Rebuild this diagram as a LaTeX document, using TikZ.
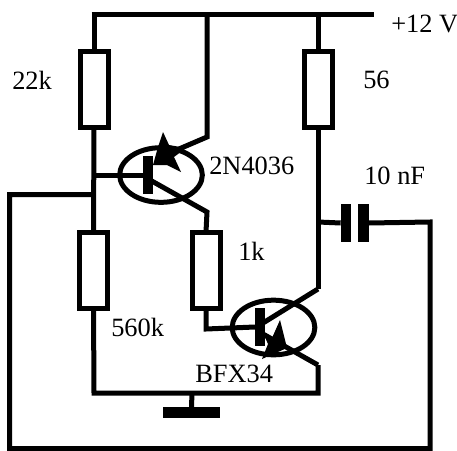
\documentclass[tikz,border=0pt]{standalone}
\usepackage{fontspec}
\usetikzlibrary{shapes.geometric}
\setmainfont{Liberation Serif}
\tikzset{
  wire/.style={line width=3.75pt,line join=miter,line cap=butt},
  resbox/.style={draw,line width=3.75pt,fill=white,minimum width=21pt,minimum height=57pt,inner sep=0pt,outer sep=0pt},
  capplate/.style={fill=black,minimum width=8pt,minimum height=28.5pt,inner sep=0pt,outer sep=0pt},
  basebar/.style={fill=black,minimum width=7.5pt,minimum height=28.5pt,inner sep=0pt,outer sep=0pt},
  body/.style={draw,line width=3.75pt,ellipse,minimum width=62pt,minimum height=41pt,inner sep=0pt,outer sep=0pt},
  lab/.style={font=\fontsize{19.8}{19.8}\selectfont,inner sep=0pt,anchor=base west,text=black}
}
\begin{document}
\begin{tikzpicture}[x=0.75pt,y=-0.75pt]
\useasboundingbox (0,0) rectangle (457,450);
\fill[white] (0,0) rectangle (457,450);
% nodes
\node[resbox] (r1) at (94,89.5) {};
\node[resbox] (r2) at (93.5,270) {};
\node[resbox] (r3) at (206,270) {};
\node[resbox] (r4) at (318,89.5) {};
\node[body] (t1) at (161,175) {};
\node[body] (t2) at (273.5,327.5) {};
\node[basebar] (b1) at (148,175) {};
\node[basebar] (b2) at (260,327) {};
\node[capplate] (c1) at (346,223) {};
\node[capplate] (c2) at (363.5,223) {};
\node[fill=black,minimum width=43pt,minimum height=8pt,inner sep=0pt,outer sep=0pt] (gnd) at (191.5,412.5) {};
% free points
\coordinate (railL) at (94,14);
\coordinate (railM) at (207,14);
\coordinate (railR) at (318,14);
\coordinate (railE) at (374,14);
\coordinate (j1) at (94,175);
\coordinate (j2) at (94,194.5);
\coordinate (t1c) at (207,137);
\coordinate (t1e) at (207,212);
\coordinate (t2c) at (318,289);
\coordinate (t2e) at (318,365);
\coordinate (botL) at (94,393);
\coordinate (botR) at (318,393);
\coordinate (botM) at (192,393);
\coordinate (fbA) at (9.5,194.5);
\coordinate (fbB) at (9.5,448.5);
\coordinate (fbC) at (430,448.5);
\coordinate (fbD) at (430,222);
\coordinate (j3) at (318,222);
\coordinate (r3b) at (206,329);
% wires
\draw[wire] (railL) ++(-2.5,0) -- (railE);
\draw[wire] (railL) -- (r1.north);
\draw[wire] (r1.south) -- (r2.north);
\draw[wire] (r2.south) -- (botL) -- (botR) -- (t2e);
\draw[wire] (railR) -- (r4.north);
\draw[wire] (r4.south) -- (t2c);
\draw[wire] (railM) -- (t1c) -- (172,152);
\draw[wire] (j1) -- (b1.west);
\draw[wire] (150,180) -- (t1e) -- (r3.north);
\draw[wire] (r3.south) -- (r3b) -- (b2.west);
\draw[wire] (t2c) -- (263,323);
\draw[wire] (263,334) -- (t2e);
\draw[wire] (j2) -- (fbA) -- (fbB) -- (fbC) -- (fbD) -- (c2.east);
\draw[wire] (j3) -- (c1.west);
\draw[wire] (botM) -- (gnd.north);
% emitter arrowheads
\fill (163,132) -- (169,145) -- (186,148) -- (174,157) -- (181,172) -- (167,165) -- (153,165) -- (158,147) -- cycle;
\fill (280,320) -- (287,348) -- (262,359) -- (268,344) -- (264,335) -- (272,338) -- cycle;
% labels
\node[lab] (l1) at (391,32) {+12 V};
\node[lab] (l2) at (12,89) {22k};
\node[lab] (l3) at (363,88) {56};
\node[lab] (l4) at (209,174) {2N4036};
\node[lab] (l5) at (364,184) {10 nF};
\node[lab] (l6) at (238,260) {1k};
\node[lab] (l7) at (111,336) {560k};
\node[lab] (l8) at (195,382) {BFX34};
\end{tikzpicture}
\end{document}
